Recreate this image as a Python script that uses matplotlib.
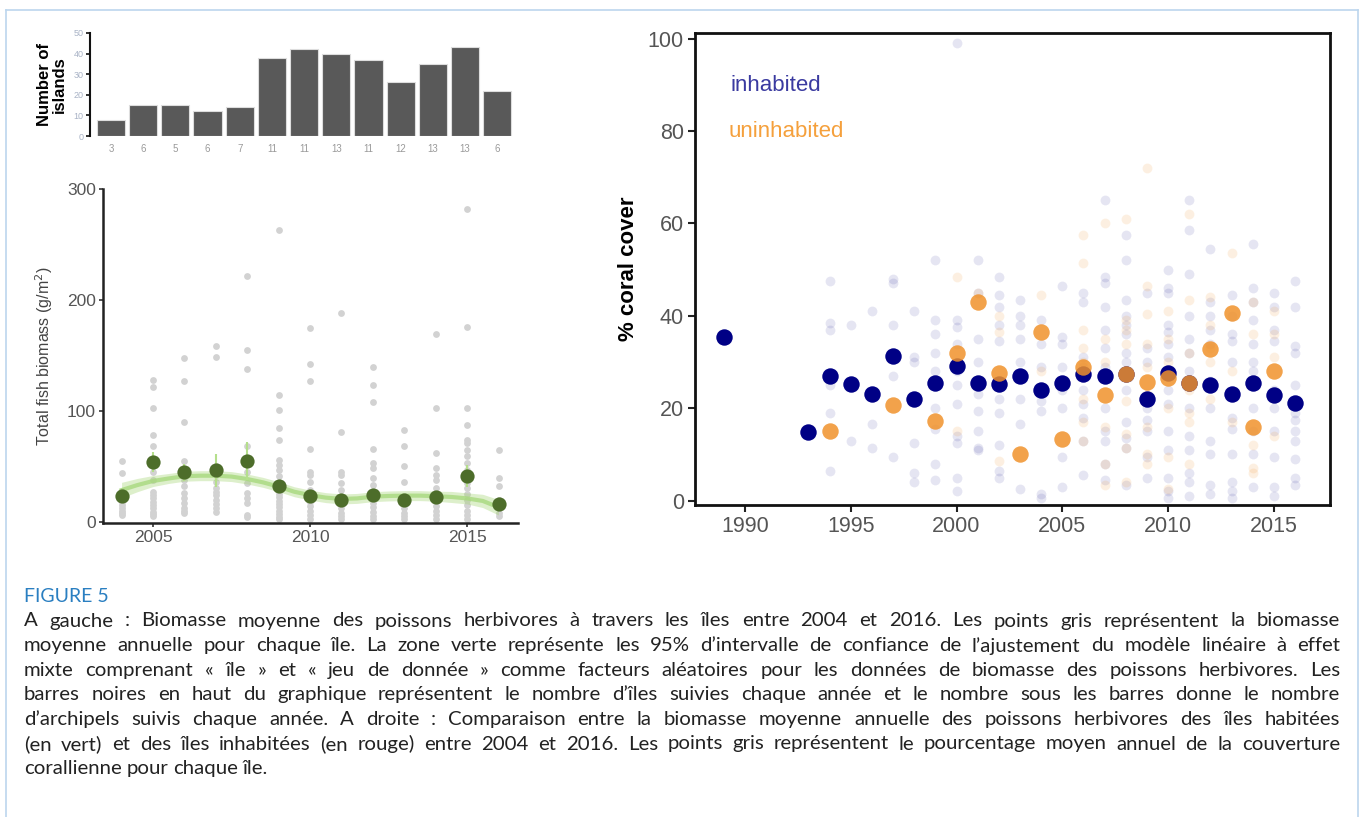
import matplotlib
matplotlib.use("Agg")
import matplotlib.pyplot as plt
from matplotlib.lines import Line2D

W, H = 1362, 817

# --- top bar chart: islands / archipelagos per year
bar_counts = [8, 15, 15, 12, 14, 38, 42, 40, 37, 26, 35, 43, 22]
bar_labels = ["3", "6", "5", "6", "7", "11", "11", "13", "11", "12", "13", "13", "6"]

# --- left: herbivore fish biomass
fish_years = list(range(2004, 2017))
fish_mean = [23, 54, 44.5, 46.5, 55, 32.5, 23.5, 20, 24, 20, 22.5, 41, 15.5]
fish_err = [5, 9, 8, 15, 17, 5, 5, 4, 5, 4, 4, 10, 4]
fish_points = {
    2004: [55, 44, 28, 25, 22, 20, 18, 15, 12, 10, 8, 6],
    2005: [128, 122, 103, 78, 68, 56, 50, 45, 38, 27, 24, 21, 18, 15, 12, 9, 7, 5],
    2006: [148, 127, 90, 55, 45, 38, 32, 26, 21, 17, 12, 10, 8],
    2007: [159, 149, 50, 42, 36, 30, 27, 24, 20, 16, 12, 9],
    2008: [222, 155, 138, 68, 53, 45, 35, 26, 21, 17, 6, 4],
    2009: [263, 114, 101, 85, 74, 56, 51, 47, 41, 35, 28, 25, 22, 19, 16, 13, 10, 7, 4, 2],
    2010: [175, 142, 127, 66, 45, 42, 36, 29, 25, 21, 18, 14, 10, 6, 2],
    2011: [188, 81, 45, 42, 35, 29, 20, 16, 12, 8, 5, 2],
    2012: [140, 123, 108, 66, 53, 48, 39, 33, 25, 21, 17, 13, 9, 5, 2],
    2013: [83, 68, 50, 36, 20, 16, 12, 8, 5, 2],
    2014: [169, 103, 62, 48, 42, 38, 30, 26, 22, 18, 14, 10, 6, 2],
    2015: [282, 176, 103, 87, 74, 71, 65, 59, 53, 47, 40, 35, 30, 25, 20, 15, 10, 6, 2],
    2016: [65, 39, 32, 20, 13, 8, 5],
}
fit_x = [2004, 2004.5, 2005, 2005.5, 2006, 2006.5, 2007, 2007.5, 2008, 2008.5,
         2009, 2009.5, 2010, 2010.5, 2011, 2011.5, 2012, 2012.5, 2013, 2013.5,
         2014, 2014.5, 2015, 2015.5, 2016]
fit_y = [28.5, 33, 36.7, 39, 41, 41.5, 41.5, 40.7, 38.5, 35.5,
         31.6, 27, 24, 21.7, 20.5, 21, 22.6, 23.2, 23.5, 23.5,
         23, 22.3, 21, 18.7, 13]
fit_hw = [7, 6, 5, 4.5, 4.5, 4.5, 4.5, 4.5, 4.5, 4.5,
          4.5, 4.5, 4.5, 4.5, 4.5, 4.5, 4.5, 4.5, 4.5, 4.5,
          4.5, 5, 5, 6, 7]

# --- right: coral cover
inh_years = [1989] + list(range(1993, 2017))
inh_mean = [35.5, 14.8, 27, 25.3, 23, 31.4, 22, 25.4, 29.2, 25.5, 25.2, 27, 24,
            25.5, 27.4, 26.9, 27.4, 21.9, 27.6, 25.4, 25, 23, 25.4, 22.8, 21.2]
uninh_years = [1994, 1997, 1999, 2000, 2001, 2002, 2003, 2004, 2005, 2006, 2007,
               2008, 2009, 2010, 2011, 2012, 2013, 2014, 2015]
uninh_mean = [15.1, 20.6, 17.3, 32, 42.9, 27.6, 10.2, 36.5, 13.3, 29, 22.8,
              27.4, 25.7, 26.5, 25.4, 32.8, 40.7, 15.9, 28]
inh_faint = {
    1994: [47.5, 38.5, 37, 25, 19, 6.5],
    1995: [38, 13],
    1996: [41, 16.5, 11.5],
    1997: [48, 47, 38, 27, 9.5],
    1998: [41, 31, 30, 12.5, 6, 4],
    1999: [52, 39, 36, 32, 28, 20, 15.5, 8, 4.5],
    2000: [99, 39, 37.5, 34, 28, 25, 21, 14, 12.5, 5, 2],
    2001: [52, 45, 35, 30, 23, 19.5, 15, 11.5, 11],
    2002: [48.5, 44.5, 42, 38, 34.5, 22, 19, 12, 6.5, 5],
    2003: [43.5, 40, 38, 35, 30, 22, 16.5, 2.5],
    2004: [39, 34, 29, 21.5, 19.5, 1.5, 0.5],
    2005: [46.5, 35.5, 34, 29, 26, 24, 20, 9.5, 3],
    2006: [45, 43, 31, 29, 24, 21, 18, 13, 5.5],
    2007: [65, 48.5, 47, 42, 37, 33, 29, 20, 15, 13, 8, 4.5],
    2008: [57.5, 52, 43.5, 40, 38, 36, 32, 30, 24, 17, 13.5, 11.5, 3.5],
    2009: [45, 33, 30, 20, 17.5, 15, 9.5, 5],
    2010: [50, 46, 45, 38, 36.5, 34, 31, 24, 21, 15, 11, 5, 2, 0.5],
    2011: [65, 58.5, 49, 40, 35, 32, 28, 20, 14, 11, 6, 4, 1],
    2012: [54.5, 43, 40, 37, 34, 26, 20, 13, 10, 3.5, 1.5],
    2013: [44.5, 40, 36, 34.5, 30, 18, 15.5, 10, 4, 2, 0.5],
    2014: [55.5, 46, 43, 39, 34, 30, 28, 20, 15, 10, 3],
    2015: [45, 42, 37, 34.5, 24, 20, 15, 9.5, 3, 1],
    2016: [47.5, 42, 33.5, 32, 25, 19, 17.5, 15, 13, 9, 5, 3.5],
}
uninh_faint = {
    2000: [48.5, 15],
    2001: [45],
    2002: [40, 36.5, 8.5],
    2004: [44.5, 28],
    2006: [57.5, 51.5, 37, 33, 30, 22, 17, 13],
    2007: [60, 35, 30, 16, 8, 3.5],
    2008: [61, 39, 37, 34, 21.5, 14.5, 11.5, 4],
    2009: [72, 46.5, 40.5, 34, 29, 23, 16, 10, 8],
    2010: [41, 35, 30, 20, 9.5, 2.5],
    2011: [62, 43.5, 32, 24, 19, 17, 8],
    2012: [44, 38, 33, 30, 22],
    2013: [53.5, 28, 17],
    2014: [43, 36, 12, 7, 6],
    2015: [41, 36, 31, 14],
}

caption_title = "FIGURE 5"
caption_lines = [
    "A gauche : Biomasse moyenne des poissons herbivores à travers les îles entre 2004 et 2016. Les points gris représentent la biomasse",
    "moyenne annuelle pour chaque île. La zone verte représente les 95% d’intervalle de confiance de l’ajustement du modèle linéaire à effet",
    "mixte comprenant « île » et « jeu de donnée » comme facteurs aléatoires pour les données de biomasse des poissons herbivores. Les",
    "barres noires en haut du graphique représentent le nombre d’îles suivies chaque année et le nombre sous les barres donne le nombre",
    "d’archipels suivis chaque année. A droite : Comparaison entre la biomasse moyenne annuelle des poissons herbivores des îles habitées",
    "(en vert) et des îles inhabitées (en rouge) entre 2004 et 2016. Les points gris représentent le pourcentage moyen annuel de la couverture",
    "corallienne pour chaque île.",
]

plt.rcParams['font.family'] = ['Liberation Sans', 'DejaVu Sans']

fig = plt.figure(figsize=(W / 100, H / 100), dpi=100)


def px_axes(l, t, r, b):
    return fig.add_axes([l / W, 1 - b / H, (r - l) / W, (b - t) / H])


# outer frame
for xs, ys in [([6, 6], [10, H]), ([6, 1358], [10, 10]), ([1358, 1358], [10, H])]:
    fig.add_artist(Line2D([x / W for x in xs], [1 - y / H for y in ys],
                          color='#bcd6ee', lw=1.2, transform=fig.transFigure))

# ---------- bar chart
axb = px_axes(90, 33, 515, 136)
pos = list(range(len(bar_counts)))
axb.bar(pos, bar_counts, width=0.88, color='#595959', edgecolor='#dddddd', lw=0.8)
axb.set_xlim(-0.65, 12.55)
axb.set_ylim(0, 50)
axb.set_yticks([0, 10, 20, 30, 40, 50])
axb.set_xticks(pos)
axb.set_xticklabels(bar_labels)
for s in ['top', 'right', 'bottom']:
    axb.spines[s].set_visible(False)
axb.spines['left'].set_color('#111111')
axb.spines['left'].set_linewidth(1.5)
axb.tick_params(axis='y', labelsize=6.5, labelcolor='#a9b3c6', length=3,
                width=1.2, color='#111111', pad=1.5)
axb.tick_params(axis='x', labelsize=7, labelcolor='#9a9a9a', length=0, pad=6)
axb.set_ylabel("Number of\nislands", fontsize=12, fontweight='bold',
               linespacing=0.95, labelpad=5)

# ---------- fish biomass
axf = px_axes(103, 189, 518, 523)
for yr, vals in fish_points.items():
    axf.scatter([yr] * len(vals), vals, s=24, color='#d2d2d2', lw=0, zorder=2)
lo = [m - h for m, h in zip(fit_y, fit_hw)]
hi = [m + h for m, h in zip(fit_y, fit_hw)]
axf.fill_between(fit_x, lo, hi, color='#9fd36b', alpha=0.35, lw=0, zorder=3)
axf.plot(fit_x, fit_y, color='#a8d97e', lw=3, alpha=0.8, zorder=3)
axf.errorbar(fish_years, fish_mean, yerr=fish_err, fmt='none',
             ecolor='#b5df8c', elinewidth=1.5, zorder=4)
axf.scatter(fish_years, fish_mean, s=105, color='#4d6d2a', lw=0, zorder=5)
axf.set_xlim(2003.41, 2016.62)
axf.set_ylim(-1.2, 300.3)
axf.set_xticks([2005, 2010, 2015])
axf.set_yticks([0, 100, 200, 300])
for s in ['top', 'right']:
    axf.spines[s].set_visible(False)
for s in ['left', 'bottom']:
    axf.spines[s].set_color('#222222')
    axf.spines[s].set_linewidth(1.8)
axf.tick_params(labelsize=12.5, labelcolor='#555555', length=3, width=1.2,
                color='#333333', pad=2)
axf.set_ylabel("Total fish biomass (g/m$^2$)", fontsize=11.5, color='#444444',
               labelpad=9)

# ---------- coral cover
axc = px_axes(695, 33, 1330, 505)
for yr, vals in inh_faint.items():
    axc.scatter([yr] * len(vals), vals, s=50, color='#000080', alpha=0.1, lw=0, zorder=2)
for yr, vals in uninh_faint.items():
    axc.scatter([yr] * len(vals), vals, s=50, color='#f0922b', alpha=0.14, lw=0, zorder=2)
axc.scatter(inh_years, inh_mean, s=140, color='#000085', lw=0, zorder=4)
axc.scatter(uninh_years, uninh_mean, s=140, color='#f0922b', alpha=0.85, lw=0, zorder=5)
axc.text(1989.3, 89.8, "inhabited", color='#3a3aa0', fontsize=16, va='center', ha='left')
axc.text(1989.2, 79.8, "uninhabited", color='#f5a03c', fontsize=16, va='center', ha='left')
axc.set_xlim(1987.64, 2017.65)
axc.set_ylim(-0.93, 101.2)
axc.set_xticks([1990, 1995, 2000, 2005, 2010, 2015])
axc.set_yticks([0, 20, 40, 60, 80, 100])
for s in axc.spines.values():
    s.set_color('#111111')
    s.set_linewidth(2)
axc.tick_params(labelsize=15.5, labelcolor='#555555', length=5, width=1.5,
                color='#222222', pad=3)
axc.set_ylabel("% coral cover", fontsize=16, fontweight='bold', labelpad=6)

# ---------- caption (justified)
cap_font = ['Lato', 'DejaVu Sans']
fig.text(24 / W, 1 - 597 / H, caption_title, color='#2a7fc1', fontsize=14,
         family=cap_font, va='center', ha='left')
renderer = fig.canvas.get_renderer()
x0, x1 = 24, 1340
for i, line in enumerate(caption_lines):
    y = 621 + 24.6 * i
    words = line.split(' ')
    texts = [fig.text(0, 1 - y / H, w, fontsize=14.7, family=cap_font,
                      color='#222222', va='center', ha='left') for w in words]
    widths = [t.get_window_extent(renderer).width for t in texts]
    if i == len(caption_lines) - 1:
        gap = 0.24 * 14.7 * 100 / 72
    else:
        gap = (x1 - x0 - sum(widths)) / (len(words) - 1)
    x = x0
    for t, w in zip(texts, widths):
        t.set_x(x / W)
        x += w + gap

fig.savefig("out.png", dpi=100)
